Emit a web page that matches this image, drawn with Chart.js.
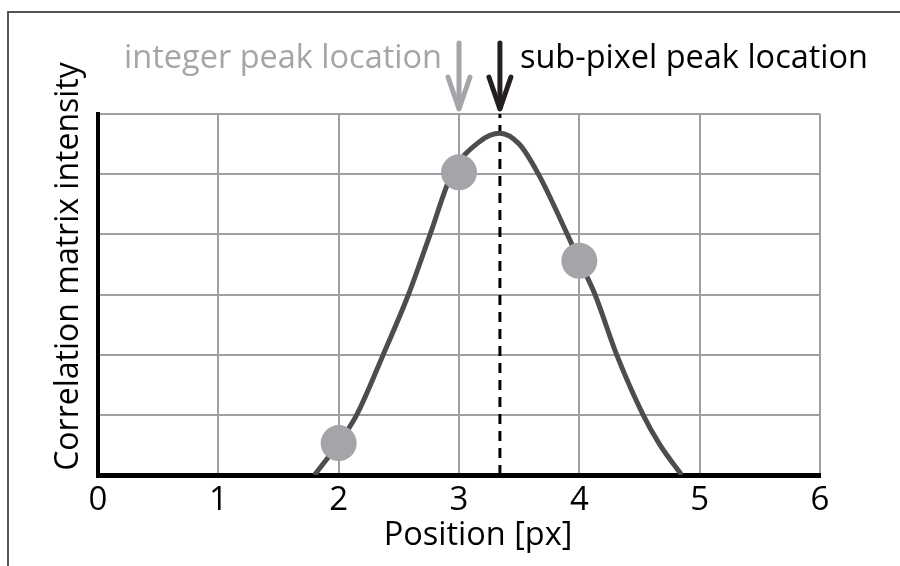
<!DOCTYPE html>
<html>
<head>
<meta charset="utf-8">
<script src="https://cdn.jsdelivr.net/npm/chart.js@4.4.1/dist/chart.umd.min.js"></script>
<style>
html,body{margin:0;padding:0;background:#fff;}
#wrap{width:900px;height:566px;position:relative;}
</style>
</head>
<body>
<div id="wrap"><canvas id="c" width="900" height="566"></canvas></div>
<script>
// Smooth correlation curve (position, intensity)
const curveX = [1.80, 2.00, 2.15, 2.37, 2.58, 2.76, 2.94, 3.17, 3.34, 3.50, 3.66, 3.90, 4.00, 4.13, 4.31, 4.53, 4.67, 4.85];
const curveY = [0.00, 0.53, 1.00, 2.00, 3.00, 4.00, 5.00, 5.54, 5.68, 5.50, 5.00, 4.00, 3.56, 3.00, 2.00, 1.00, 0.50, 0.00];
// Sampled integer-pixel values
const sampleX = [2, 3, 4];
const sampleY = [0.53, 5.03, 3.56];
// Peak markers
const integerPeakX = 3;
const subPixelPeakX = 3.34;
const xTicks = [0, 1, 2, 3, 4, 5, 6];
const yRange = [0, 6];
const xTitle = 'Position [px]';
const yTitle = 'Correlation matrix intensity';
const integerLabel = 'integer peak location';
const subPixelLabel = 'sub-pixel peak location';

const FONT = "'Open Sans', 'Noto Sans', sans-serif";

const curveData = curveX.map((x, i) => ({x, y: curveY[i]}));
const sampleData = sampleX.map((x, i) => ({x, y: sampleY[i]}));
const peakLine = [{x: subPixelPeakX, y: yRange[0]}, {x: subPixelPeakX, y: yRange[1]}];

const frame = {
  id: 'frame',
  beforeDraw(chart) {
    const ctx = chart.ctx;
    ctx.save();
    ctx.fillStyle = '#fff';
    ctx.fillRect(0, 0, chart.width, chart.height);
    ctx.strokeStyle = '#555';
    ctx.lineWidth = 2;
    ctx.beginPath();
    ctx.moveTo(8, chart.height);
    ctx.lineTo(8, 12);
    ctx.lineTo(chart.width, 12);
    ctx.stroke();
    ctx.restore();
  },
  afterDraw(chart) {
    const ctx = chart.ctx;
    const xs = chart.scales.x;
    const ca = chart.chartArea;
    const top = ca.top;
    const drawArrow = (x, color) => {
      ctx.save();
      ctx.strokeStyle = color;
      ctx.lineWidth = 5;
      ctx.lineCap = 'round';
      ctx.lineJoin = 'round';
      ctx.beginPath();
      ctx.moveTo(x, 43);
      ctx.lineTo(x, top - 6);
      ctx.stroke();
      ctx.beginPath();
      ctx.moveTo(x - 11, top - 37);
      ctx.lineTo(x, top - 5);
      ctx.lineTo(x + 11, top - 37);
      ctx.stroke();
      ctx.restore();
    };
    const xi = xs.getPixelForValue(integerPeakX);
    const xp = xs.getPixelForValue(subPixelPeakX);
    drawArrow(xi, '#a3a5a8');
    drawArrow(xp, '#231f20');
    ctx.save();
    ctx.font = "32.5px " + FONT;
    ctx.textBaseline = 'alphabetic';
    ctx.fillStyle = '#a3a5a8';
    ctx.textAlign = 'right';
    ctx.fillText(integerLabel, xi - 17, 68);
    ctx.fillStyle = '#000';
    ctx.textAlign = 'left';
    ctx.fillText(subPixelLabel, xp + 20, 68);
    // axis titles
    ctx.font = "32.5px " + FONT;
    ctx.textAlign = 'center';
    ctx.fillText(xTitle, (ca.left + ca.right) / 2 + 19, 545);
    ctx.translate(78, (ca.top + ca.bottom) / 2 - 28);
    ctx.rotate(-Math.PI / 2);
    ctx.font = "32px " + FONT;
    ctx.fillText(yTitle, 0, 0);
    ctx.restore();
  }
};

new Chart(document.getElementById('c'), {
  type: 'scatter',
  data: {
    datasets: [
      {
        type: 'line',
        data: peakLine,
        borderColor: '#000',
        borderWidth: 3,
        borderDash: [10, 7],
        pointRadius: 0,
        order: 3
      },
      {
        type: 'line',
        data: curveData,
        borderColor: '#4d4d4f',
        borderWidth: 5,
        pointRadius: 0,
        cubicInterpolationMode: 'monotone',
        order: 2
      },
      {
        data: sampleData,
        backgroundColor: '#a3a5a8',
        borderWidth: 0,
        pointRadius: 18,
        pointHoverRadius: 18,
        order: 1
      }
    ]
  },
  options: {
    responsive: false,
    animation: false,
    devicePixelRatio: 1,
    events: [],
    layout: {padding: {top: 114, right: 80, bottom: 0, left: 0}},
    plugins: {legend: {display: false}, tooltip: {enabled: false}},
    scales: {
      x: {
        type: 'linear',
        min: xTicks[0],
        max: xTicks[xTicks.length - 1],
        afterBuildTicks(s) { s.ticks = xTicks.map(v => ({value: v})); },
        afterFit(s) { s.height = 91; },
        grid: {color: '#9d9fa2', lineWidth: 2, drawTicks: false},
        border: {color: '#000', width: 5},
        ticks: {color: '#000', font: {family: FONT, size: 33}, padding: 6},
        title: {display: false}
      },
      y: {
        min: yRange[0],
        max: yRange[1],
        afterFit(s) { s.width = 98; },
        grid: {color: '#9d9fa2', lineWidth: 2, drawTicks: false},
        border: {color: '#000', width: 4},
        ticks: {display: false, stepSize: 1},
        title: {display: false}
      }
    }
  },
  plugins: [frame]
});
</script>
</body>
</html>
